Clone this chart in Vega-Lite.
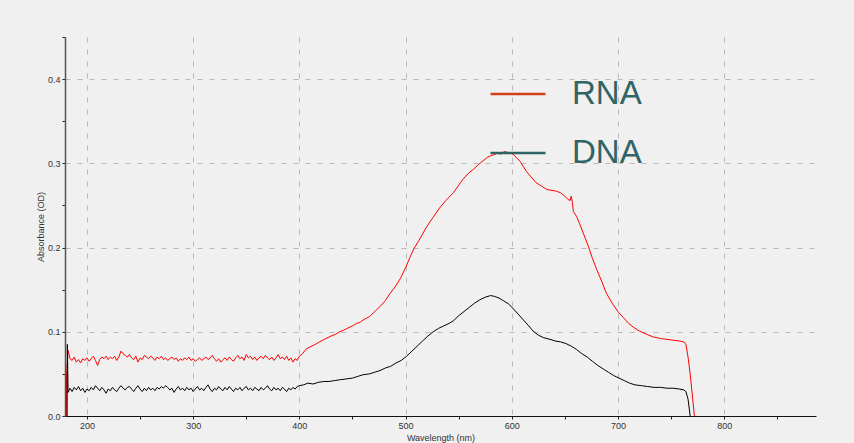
{
  "$schema": "https://vega.github.io/schema/vega-lite/v6.json",
  "width": 751,
  "height": 379,
  "autosize": {"type": "none"},
  "padding": {"left": 65, "top": 37, "right": 38, "bottom": 27},
  "background": "#f0f0f0",
  "config": {
    "view": {"stroke": null},
    "axis": {
      "labelFont": "Liberation Sans",
      "labelFontSize": 9,
      "labelColor": "#333333",
      "titleFont": "Liberation Sans",
      "titleFontSize": 9,
      "titleFontWeight": "normal",
      "titleColor": "#333333",
      "gridColor": "#b9b9b9",
      "gridDash": [5, 7],
      "gridWidth": 1,
      "tickColor": "#222222",
      "labelPadding": 2
    }
  },
  "layer": [
    {
      "data": {"values": [
        {"wl":180.6,"abs":0.0},{"wl":180.7,"abs":0.047},{"wl":182.2,"abs":0.078},{"wl":184,"abs":0.068},{"wl":186,"abs":0.066},{"wl":188,"abs":0.070},{"wl":190,"abs":0.064},{"wl":192,"abs":0.067},{"wl":194,"abs":0.063},{"wl":196,"abs":0.068},{"wl":198,"abs":0.066},{"wl":200,"abs":0.069},{"wl":202,"abs":0.065},{"wl":204,"abs":0.068},{"wl":206,"abs":0.071},{"wl":208,"abs":0.066},{"wl":210,"abs":0.060},{"wl":212,"abs":0.067},{"wl":214,"abs":0.070},{"wl":216,"abs":0.068},{"wl":218,"abs":0.071},{"wl":220,"abs":0.067},{"wl":222,"abs":0.070},{"wl":224,"abs":0.068},{"wl":226,"abs":0.071},{"wl":228,"abs":0.066},{"wl":230,"abs":0.070},{"wl":232,"abs":0.077},{"wl":234,"abs":0.074},{"wl":236,"abs":0.072},{"wl":238,"abs":0.070},{"wl":240,"abs":0.073},{"wl":242,"abs":0.069},{"wl":244,"abs":0.067},{"wl":246,"abs":0.071},{"wl":248,"abs":0.064},{"wl":250,"abs":0.069},{"wl":252,"abs":0.067},{"wl":254,"abs":0.072},{"wl":256,"abs":0.070},{"wl":258,"abs":0.068},{"wl":260,"abs":0.071},{"wl":262,"abs":0.069},{"wl":264,"abs":0.066},{"wl":266,"abs":0.070},{"wl":268,"abs":0.068},{"wl":270,"abs":0.071},{"wl":272,"abs":0.067},{"wl":274,"abs":0.069},{"wl":276,"abs":0.066},{"wl":278,"abs":0.068},{"wl":280,"abs":0.070},{"wl":282,"abs":0.067},{"wl":284,"abs":0.069},{"wl":286,"abs":0.065},{"wl":288,"abs":0.068},{"wl":290,"abs":0.066},{"wl":292,"abs":0.069},{"wl":294,"abs":0.067},{"wl":296,"abs":0.070},{"wl":298,"abs":0.066},{"wl":300,"abs":0.068},{"wl":302,"abs":0.065},{"wl":304,"abs":0.067},{"wl":306,"abs":0.069},{"wl":308,"abs":0.066},{"wl":310,"abs":0.068},{"wl":312,"abs":0.070},{"wl":314,"abs":0.067},{"wl":316,"abs":0.069},{"wl":318,"abs":0.072},{"wl":320,"abs":0.068},{"wl":322,"abs":0.065},{"wl":324,"abs":0.068},{"wl":326,"abs":0.064},{"wl":328,"abs":0.067},{"wl":330,"abs":0.069},{"wl":332,"abs":0.066},{"wl":334,"abs":0.070},{"wl":336,"abs":0.067},{"wl":338,"abs":0.065},{"wl":340,"abs":0.069},{"wl":342,"abs":0.072},{"wl":344,"abs":0.068},{"wl":346,"abs":0.070},{"wl":348,"abs":0.066},{"wl":350,"abs":0.073},{"wl":352,"abs":0.069},{"wl":354,"abs":0.071},{"wl":356,"abs":0.067},{"wl":358,"abs":0.070},{"wl":360,"abs":0.066},{"wl":362,"abs":0.069},{"wl":364,"abs":0.071},{"wl":366,"abs":0.068},{"wl":368,"abs":0.072},{"wl":370,"abs":0.069},{"wl":372,"abs":0.067},{"wl":374,"abs":0.070},{"wl":376,"abs":0.066},{"wl":378,"abs":0.069},{"wl":380,"abs":0.073},{"wl":382,"abs":0.068},{"wl":384,"abs":0.070},{"wl":386,"abs":0.067},{"wl":388,"abs":0.071},{"wl":390,"abs":0.066},{"wl":392,"abs":0.069},{"wl":394,"abs":0.064},{"wl":396,"abs":0.068},{"wl":398,"abs":0.066},{"wl":400,"abs":0.071},
        {"wl":403,"abs":0.074},{"wl":406,"abs":0.079},{"wl":410,"abs":0.082},{"wl":415,"abs":0.085},{"wl":419,"abs":0.088},{"wl":425,"abs":0.092},{"wl":430,"abs":0.095},{"wl":434,"abs":0.097},{"wl":438,"abs":0.100},{"wl":442,"abs":0.102},{"wl":445,"abs":0.104},{"wl":450,"abs":0.107},{"wl":454,"abs":0.110},{"wl":457,"abs":0.111},{"wl":460,"abs":0.114},{"wl":466,"abs":0.118},{"wl":471,"abs":0.124},{"wl":476,"abs":0.130},{"wl":481,"abs":0.137},{"wl":485,"abs":0.145},{"wl":490,"abs":0.153},{"wl":495,"abs":0.163},{"wl":500,"abs":0.176},{"wl":504,"abs":0.188},{"wl":508,"abs":0.199},{"wl":512,"abs":0.207},{"wl":516,"abs":0.216},{"wl":520,"abs":0.225},{"wl":526,"abs":0.236},{"wl":532,"abs":0.247},{"wl":538,"abs":0.256},{"wl":545,"abs":0.265},{"wl":550,"abs":0.274},{"wl":554,"abs":0.281},{"wl":559,"abs":0.288},{"wl":564,"abs":0.293},{"wl":569,"abs":0.299},{"wl":573,"abs":0.303},{"wl":577,"abs":0.307},{"wl":580,"abs":0.309},{"wl":583,"abs":0.310},{"wl":586,"abs":0.312},{"wl":590,"abs":0.311},{"wl":593,"abs":0.314},{"wl":596,"abs":0.313},{"wl":599,"abs":0.312},{"wl":602,"abs":0.310},{"wl":605,"abs":0.306},{"wl":608,"abs":0.302},{"wl":611,"abs":0.296},{"wl":614,"abs":0.290},{"wl":618,"abs":0.284},{"wl":623,"abs":0.277},{"wl":628,"abs":0.273},{"wl":633,"abs":0.269},{"wl":637,"abs":0.268},{"wl":642,"abs":0.267},{"wl":646,"abs":0.265},{"wl":650,"abs":0.261},{"wl":653,"abs":0.257},{"wl":655,"abs":0.256},{"wl":656,"abs":0.261},{"wl":657,"abs":0.254},{"wl":658,"abs":0.243},{"wl":661,"abs":0.237},{"wl":664,"abs":0.228},{"wl":668,"abs":0.215},{"wl":672,"abs":0.202},{"wl":676,"abs":0.187},{"wl":680,"abs":0.174},{"wl":685,"abs":0.159},{"wl":689,"abs":0.146},{"wl":695,"abs":0.133},{"wl":700,"abs":0.124},{"wl":705,"abs":0.117},{"wl":710,"abs":0.110},{"wl":715,"abs":0.105},{"wl":720,"abs":0.101},{"wl":727,"abs":0.097},{"wl":733,"abs":0.094},{"wl":740,"abs":0.092},{"wl":746,"abs":0.091},{"wl":752,"abs":0.090},{"wl":758,"abs":0.089},{"wl":762,"abs":0.088},{"wl":764,"abs":0.085},{"wl":766,"abs":0.070},{"wl":768,"abs":0.050},{"wl":770,"abs":0.025},{"wl":772,"abs":0.0}
      ]},
      "mark": {"type": "line", "strokeWidth": 1, "clip": true, "stroke": "#ff0000"},
      "encoding": {
        "x": {"field": "wl", "type": "quantitative", "sort": null,
          "scale": {"domain": [179.3, 886.5], "nice": false, "zero": false},
          "axis": {
            "title": "Wavelength (nm)",
            "values": [200, 250, 300, 350, 400, 450, 500, 550, 600, 650, 700, 750, 800, 850],
            "labelExpr": "datum.value % 100 === 0 ? datum.label : ''",
            "domainColor": "#111111",
            "domainWidth": 1,
            "tickSize": 3,
            "titlePadding": 3,
            "gridOpacity": {"condition": {"test": "datum.value % 100 === 0", "value": 1}, "value": 0}
          }
        },
        "y": {"field": "abs", "type": "quantitative",
          "scale": {"domain": [0, 0.45], "nice": false},
          "axis": {
            "title": "Absorbance (OD)",
            "values": [0, 0.05, 0.1, 0.15, 0.2, 0.25, 0.3, 0.35, 0.4, 0.45],
            "labelExpr": "abs(datum.value * 10 - round(datum.value * 10)) < 0.001 ? format(datum.value, '.1f') : ''",
            "domainColor": "#555555",
            "domainWidth": 1.5,
            "tickSize": 3,
            "titlePadding": 2,
            "gridOpacity": {"condition": {"test": "abs(datum.value * 10 - round(datum.value * 10)) < 0.001 && datum.value > 0", "value": 1}, "value": 0}
          }
        }
      }
    },
    {
      "data": {"values": [
        {"wl":181.3,"abs":0.0},{"wl":181.5,"abs":0.085},{"wl":182.2,"abs":0.028},{"wl":184,"abs":0.033},{"wl":186,"abs":0.029},{"wl":188,"abs":0.034},{"wl":190,"abs":0.031},{"wl":192,"abs":0.035},{"wl":194,"abs":0.030},{"wl":196,"abs":0.033},{"wl":198,"abs":0.028},{"wl":200,"abs":0.032},{"wl":202,"abs":0.030},{"wl":204,"abs":0.034},{"wl":206,"abs":0.031},{"wl":208,"abs":0.036},{"wl":210,"abs":0.033},{"wl":212,"abs":0.030},{"wl":214,"abs":0.034},{"wl":216,"abs":0.031},{"wl":218,"abs":0.027},{"wl":220,"abs":0.032},{"wl":222,"abs":0.030},{"wl":224,"abs":0.034},{"wl":226,"abs":0.031},{"wl":228,"abs":0.029},{"wl":230,"abs":0.033},{"wl":232,"abs":0.036},{"wl":234,"abs":0.033},{"wl":236,"abs":0.031},{"wl":238,"abs":0.034},{"wl":240,"abs":0.035},{"wl":242,"abs":0.032},{"wl":244,"abs":0.029},{"wl":246,"abs":0.033},{"wl":248,"abs":0.036},{"wl":250,"abs":0.032},{"wl":252,"abs":0.029},{"wl":254,"abs":0.033},{"wl":256,"abs":0.030},{"wl":258,"abs":0.034},{"wl":260,"abs":0.031},{"wl":262,"abs":0.033},{"wl":264,"abs":0.030},{"wl":266,"abs":0.034},{"wl":268,"abs":0.032},{"wl":270,"abs":0.035},{"wl":272,"abs":0.033},{"wl":274,"abs":0.036},{"wl":276,"abs":0.034},{"wl":278,"abs":0.031},{"wl":280,"abs":0.033},{"wl":282,"abs":0.028},{"wl":284,"abs":0.032},{"wl":286,"abs":0.035},{"wl":288,"abs":0.031},{"wl":290,"abs":0.033},{"wl":292,"abs":0.030},{"wl":294,"abs":0.034},{"wl":296,"abs":0.031},{"wl":298,"abs":0.033},{"wl":300,"abs":0.029},{"wl":302,"abs":0.032},{"wl":304,"abs":0.035},{"wl":306,"abs":0.031},{"wl":308,"abs":0.033},{"wl":310,"abs":0.030},{"wl":312,"abs":0.034},{"wl":314,"abs":0.037},{"wl":316,"abs":0.032},{"wl":318,"abs":0.029},{"wl":320,"abs":0.033},{"wl":322,"abs":0.031},{"wl":324,"abs":0.035},{"wl":326,"abs":0.032},{"wl":328,"abs":0.030},{"wl":330,"abs":0.034},{"wl":332,"abs":0.031},{"wl":334,"abs":0.035},{"wl":336,"abs":0.032},{"wl":338,"abs":0.029},{"wl":340,"abs":0.033},{"wl":342,"abs":0.031},{"wl":344,"abs":0.034},{"wl":346,"abs":0.030},{"wl":348,"abs":0.033},{"wl":350,"abs":0.035},{"wl":352,"abs":0.031},{"wl":354,"abs":0.033},{"wl":356,"abs":0.030},{"wl":358,"abs":0.034},{"wl":360,"abs":0.032},{"wl":362,"abs":0.030},{"wl":364,"abs":0.034},{"wl":366,"abs":0.031},{"wl":368,"abs":0.033},{"wl":370,"abs":0.036},{"wl":372,"abs":0.032},{"wl":374,"abs":0.030},{"wl":376,"abs":0.034},{"wl":378,"abs":0.031},{"wl":380,"abs":0.033},{"wl":382,"abs":0.030},{"wl":384,"abs":0.034},{"wl":386,"abs":0.032},{"wl":388,"abs":0.029},{"wl":390,"abs":0.033},{"wl":392,"abs":0.031},{"wl":394,"abs":0.034},{"wl":396,"abs":0.032},{"wl":398,"abs":0.035},{"wl":400,"abs":0.036},
        {"wl":404,"abs":0.037},{"wl":408,"abs":0.039},{"wl":413,"abs":0.038},{"wl":418,"abs":0.040},{"wl":423,"abs":0.041},{"wl":428,"abs":0.041},{"wl":433,"abs":0.042},{"wl":438,"abs":0.043},{"wl":444,"abs":0.044},{"wl":450,"abs":0.045},{"wl":455,"abs":0.047},{"wl":460,"abs":0.049},{"wl":466,"abs":0.050},{"wl":471,"abs":0.052},{"wl":476,"abs":0.054},{"wl":481,"abs":0.057},{"wl":486,"abs":0.059},{"wl":491,"abs":0.063},{"wl":496,"abs":0.066},{"wl":501,"abs":0.071},{"wl":506,"abs":0.077},{"wl":511,"abs":0.083},{"wl":516,"abs":0.089},{"wl":521,"abs":0.095},{"wl":526,"abs":0.100},{"wl":531,"abs":0.104},{"wl":536,"abs":0.107},{"wl":541,"abs":0.110},{"wl":545,"abs":0.113},{"wl":550,"abs":0.119},{"wl":555,"abs":0.124},{"wl":560,"abs":0.129},{"wl":565,"abs":0.134},{"wl":570,"abs":0.138},{"wl":575,"abs":0.141},{"wl":580,"abs":0.143},{"wl":584,"abs":0.142},{"wl":588,"abs":0.140},{"wl":592,"abs":0.137},{"wl":597,"abs":0.133},{"wl":601,"abs":0.128},{"wl":606,"abs":0.121},{"wl":611,"abs":0.114},{"wl":616,"abs":0.107},{"wl":620,"abs":0.101},{"wl":625,"abs":0.096},{"wl":630,"abs":0.093},{"wl":636,"abs":0.091},{"wl":641,"abs":0.089},{"wl":646,"abs":0.088},{"wl":651,"abs":0.086},{"wl":656,"abs":0.083},{"wl":661,"abs":0.079},{"wl":666,"abs":0.074},{"wl":671,"abs":0.070},{"wl":676,"abs":0.065},{"wl":681,"abs":0.060},{"wl":686,"abs":0.056},{"wl":691,"abs":0.052},{"wl":696,"abs":0.048},{"wl":701,"abs":0.045},{"wl":706,"abs":0.042},{"wl":711,"abs":0.039},{"wl":716,"abs":0.037},{"wl":722,"abs":0.036},{"wl":728,"abs":0.035},{"wl":734,"abs":0.034},{"wl":740,"abs":0.034},{"wl":746,"abs":0.033},{"wl":752,"abs":0.033},{"wl":758,"abs":0.032},{"wl":762,"abs":0.031},{"wl":764,"abs":0.029},{"wl":766,"abs":0.020},{"wl":768,"abs":0.0}
      ]},
      "mark": {"type": "line", "strokeWidth": 1, "clip": true, "stroke": "#000000"},
      "encoding": {
        "x": {"field": "wl", "type": "quantitative", "sort": null},
        "y": {"field": "abs", "type": "quantitative"}
      }
    },
    {
      "data": {"values": []},
      "mark": {"type": "line", "strokeWidth": 1},
      "encoding": {
        "x": {"field": "wl", "type": "quantitative"},
        "y": {"field": "abs", "type": "quantitative"},
        "color": {"field": "sample", "type": "nominal",
          "scale": {"domain": ["RNA", "DNA"], "range": ["#d2401a", "#2f6262"]},
          "legend": {
            "title": null,
            "orient": "none",
            "legendX": 424,
            "legendY": 28,
            "padding": 0,
            "symbolType": "stroke",
            "symbolSize": 3025,
            "symbolStrokeWidth": 2.5,
            "labelFont": "Liberation Sans",
            "labelFontSize": 33,
            "labelColor": "#316464",
            "labelOffset": 25,
            "rowPadding": 13,
            "labelLimit": 200
          }
        }
      }
    }
  ]
}
